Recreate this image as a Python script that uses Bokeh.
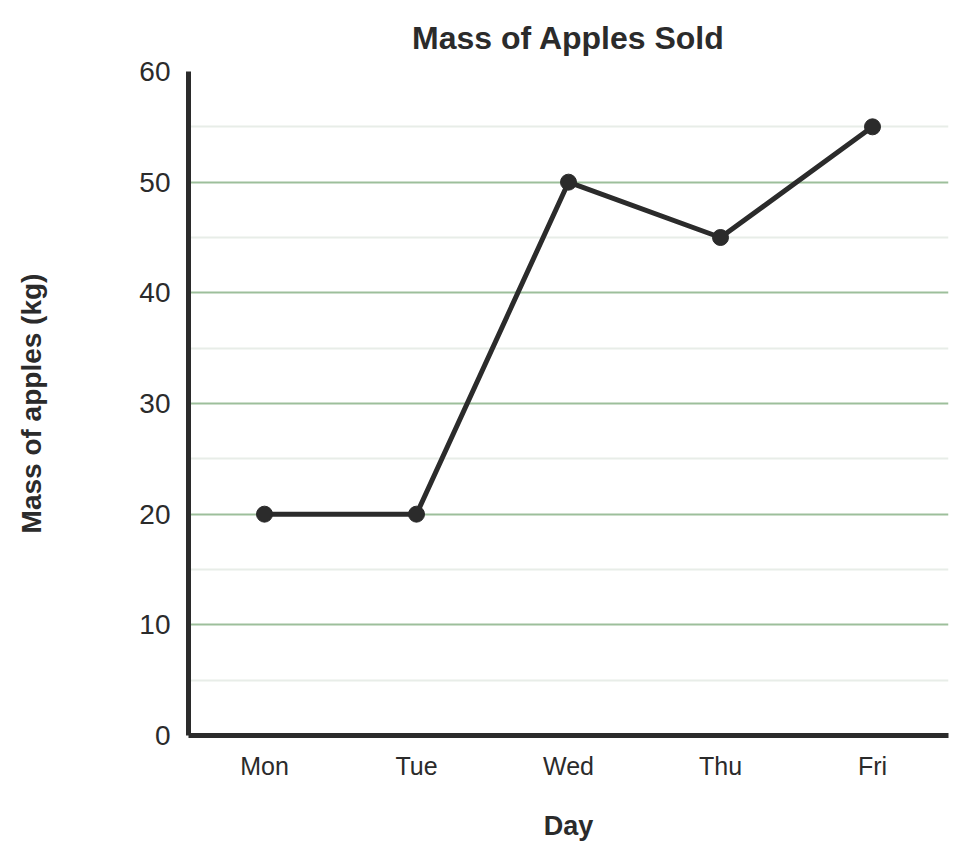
from bokeh.plotting import figure
from bokeh.models import Range1d, FactorRange, FixedTicker, Title
from bokeh.embed import file_html
from bokeh.resources import INLINE

days = ["Mon", "Tue", "Wed", "Thu", "Fri"]
mass_kg = [20, 20, 50, 45, 55]
y_ticks = [0, 10, 20, 30, 40, 50, 60]
y_minor = [5, 15, 25, 35, 45, 55]

FONT = "Liberation Sans"
DARK = "#2b2b2b"

p = figure(width=958, height=848, output_backend="svg", toolbar_location=None,
           x_range=FactorRange(factors=days, range_padding=0),
           y_range=Range1d(0, 60),
           min_border_left=188, min_border_right=10, min_border_top=71,
           min_border_bottom=113)

p.title = Title(text="Mass of Apples Sold", align="center", text_font=FONT,
                text_font_size="32px", text_font_style="bold", text_color=DARK,
                standoff=32)

p.line(days, mass_kg, line_color=DARK, line_width=5)
p.scatter(days, mass_kg, size=16, fill_color=DARK, line_color=DARK)

p.outline_line_color = None
p.xgrid.grid_line_color = None
p.yaxis.ticker = FixedTicker(ticks=y_ticks, minor_ticks=y_minor)
p.ygrid.grid_line_color = "#9dbf9b"
p.ygrid.grid_line_width = 2
p.ygrid.minor_grid_line_color = "#e8ede8"
p.ygrid.minor_grid_line_width = 2

for ax in (p.xaxis, p.yaxis):
    ax.axis_line_color = DARK
    ax.axis_line_width = 5
    ax.major_tick_line_color = None
    ax.minor_tick_line_color = None
    ax.major_label_text_font = FONT
    ax.major_label_text_color = DARK
    ax.axis_label_text_font = FONT
    ax.axis_label_text_font_style = "bold"
    ax.axis_label_text_color = DARK

p.xaxis.major_label_text_font_size = "25px"
p.yaxis.major_label_text_font_size = "28px"

p.xaxis.axis_label = "Day"
p.xaxis.axis_label_text_font_size = "27px"
p.xaxis.major_label_standoff = 10
p.xaxis.axis_label_standoff = 28

p.yaxis.axis_label = "Mass of apples (kg)"
p.yaxis.axis_label_text_font_size = "28px"
p.yaxis.major_label_standoff = 12
p.yaxis.axis_label_standoff = 89

open("out.html", "w").write(file_html(p, INLINE))
